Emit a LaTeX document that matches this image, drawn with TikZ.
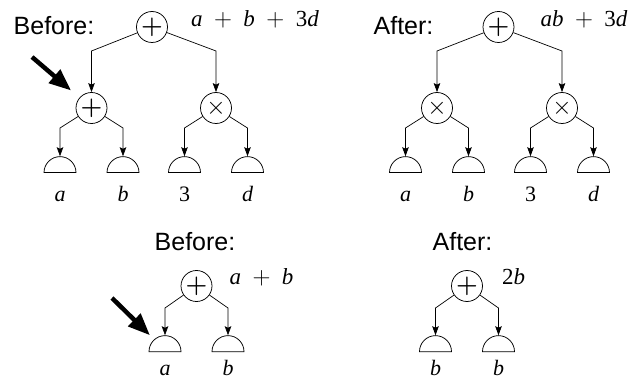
\documentclass[tikz,border=0pt]{standalone}
\usepackage{amsmath,amssymb}
\usepackage{fontspec}
\setmainfont{Liberation Serif}
\setsansfont{Liberation Sans}
\usepackage{tikz}
\usetikzlibrary{positioning,arrows.meta,shapes.geometric,calc}
\tikzset{
  op/.style={circle, draw, line width=0.75pt, inner sep=0pt, minimum size=31pt,
             font=\fontsize{30}{30}\selectfont},
  leaf/.style={semicircle, draw, line width=0.75pt, inner sep=0pt,
               minimum width=32pt, minimum height=16pt},
  var/.style={font=\fontsize{22}{24}\selectfont\itshape, anchor=base, inner sep=0pt},
  expr/.style={font=\fontsize{23}{25}\selectfont, anchor=base, inner sep=0pt},
  tag/.style={font=\fontsize{25}{28}\selectfont\sffamily, anchor=base, inner sep=0pt},
  ar/.style={-{Stealth[length=9pt,width=6.5pt,inset=1.5pt]}, line width=0.7pt},
  pointer/.style={-{Triangle[length=22pt,width=17pt]}, line width=4.5pt},
}
\newcommand\addop{\hspace{0.5em}$+$\hspace{0.5em}}
\newcommand\feed[3]{% parent, child, drop of the corner
  \draw[ar] let \p1=(#1), \p2=(#2.north) in (#1) -- (\x2,\y1-#3) -- (#2.north);}

\begin{document}
\begin{tikzpicture}[node distance=81pt and 62pt, on grid]
\useasboundingbox (0,0) rectangle (633pt,381pt);

% before: a + b + 3d
\node[tag] (bfA) at (54pt,346pt) {Before:};
\node[op] (rA) at (152pt,354pt) {$\boldsymbol{+}$};
\node[expr] (eA) at (255pt,354pt) {\textit{a}\addop\textit{b}\addop3\textit{d}};
\node[op] (lA) [below left=81pt and 60.5pt of rA] {$\boldsymbol{+}$};
\node[op] (xA) [below right=81pt and 64pt of rA] {$\times$};
\node[leaf] (aA) [below left=65pt and 31.5pt of lA, anchor=chord center] {};
\node[leaf] (bA) [below right=65pt and 31.5pt of lA, anchor=chord center] {};
\node[leaf] (cA) [below left=65pt and 31.5pt of xA, anchor=chord center] {};
\node[leaf] (dA) [below right=65pt and 31.5pt of xA, anchor=chord center] {};
\node[var] (vaA) at ([yshift=-29pt]aA.chord center) {a};
\node[var] (vbA) at ([yshift=-29pt]bA.chord center) {b};
\node[var] (vcA) at ([yshift=-29pt]cA.chord center) {\upshape 3};
\node[var] (vdA) at ([yshift=-29pt]dA.chord center) {d};
\feed{rA}{lA}{24pt}
\feed{rA}{xA}{24pt}
\feed{lA}{aA}{20pt}
\feed{lA}{bA}{20pt}
\feed{xA}{cA}{20pt}
\feed{xA}{dA}{20pt}
\coordinate (pA) at (32pt,324pt);
\draw[pointer, shorten >=11pt] (pA) -- (lA);

% after: ab + 3d
\node[tag] (afB) at (403.5pt,346pt) {After:};
\node[op] (rB) at (498.5pt,354pt) {$\boldsymbol{+}$};
\node[expr] (eB) at (584pt,354pt) {\textit{ab}\addop3\textit{d}};
\node[op] (lB) [below left=81pt and 61.5pt of rB] {$\times$};
\node[op] (xB) [below right=81pt and 63.5pt of rB] {$\times$};
\node[leaf] (aB) [below left=65pt and 31.5pt of lB, anchor=chord center] {};
\node[leaf] (bB) [below right=65pt and 31.5pt of lB, anchor=chord center] {};
\node[leaf] (cB) [below left=65pt and 31.5pt of xB, anchor=chord center] {};
\node[leaf] (dB) [below right=65pt and 31.5pt of xB, anchor=chord center] {};
\node[var] (vaB) at ([yshift=-29pt]aB.chord center) {a};
\node[var] (vbB) at ([yshift=-29pt]bB.chord center) {b};
\node[var] (vcB) at ([yshift=-29pt]cB.chord center) {\upshape 3};
\node[var] (vdB) at ([yshift=-29pt]dB.chord center) {d};
\feed{rB}{lB}{24pt}
\feed{rB}{xB}{24pt}
\feed{lB}{aB}{20pt}
\feed{lB}{bB}{20pt}
\feed{xB}{cB}{20pt}
\feed{xB}{dB}{20pt}

% before: a + b
\node[tag] (bfC) at (195pt,131pt) {Before:};
\node[op] (rC) at (196.5pt,95pt) {$\boldsymbol{+}$};
\node[expr] (eC) at (261.5pt,96pt) {\textit{a}\addop\textit{b}};
\node[leaf] (aC) [below left=66pt and 31.5pt of rC, anchor=chord center] {};
\node[leaf] (bC) [below right=66pt and 31.5pt of rC, anchor=chord center] {};
\node[var] (vaC) at ([yshift=-23pt]aC.chord center) {a};
\node[var] (vbC) at ([yshift=-23pt]bC.chord center) {b};
\feed{rC}{aC}{22pt}
\feed{rC}{bC}{22pt}
\coordinate (pC) at (112pt,83pt);
\draw[pointer] (pC) -- (aC.west |- aC.north);

% after: 2b
\node[tag] (afD) at (462.5pt,131pt) {After:};
\node[op] (rD) at (467pt,95pt) {$\boldsymbol{+}$};
\node[expr] (eD) at (513.5pt,96pt) {2\textit{b}};
\node[leaf] (aD) [below left=66pt and 31.5pt of rD, anchor=chord center] {};
\node[leaf] (bD) [below right=66pt and 31.5pt of rD, anchor=chord center] {};
\node[var] (vaD) at ([yshift=-23pt]aD.chord center) {b};
\node[var] (vbD) at ([yshift=-23pt]bD.chord center) {b};
\feed{rD}{aD}{22pt}
\feed{rD}{bD}{22pt}
\end{tikzpicture}
\end{document}
